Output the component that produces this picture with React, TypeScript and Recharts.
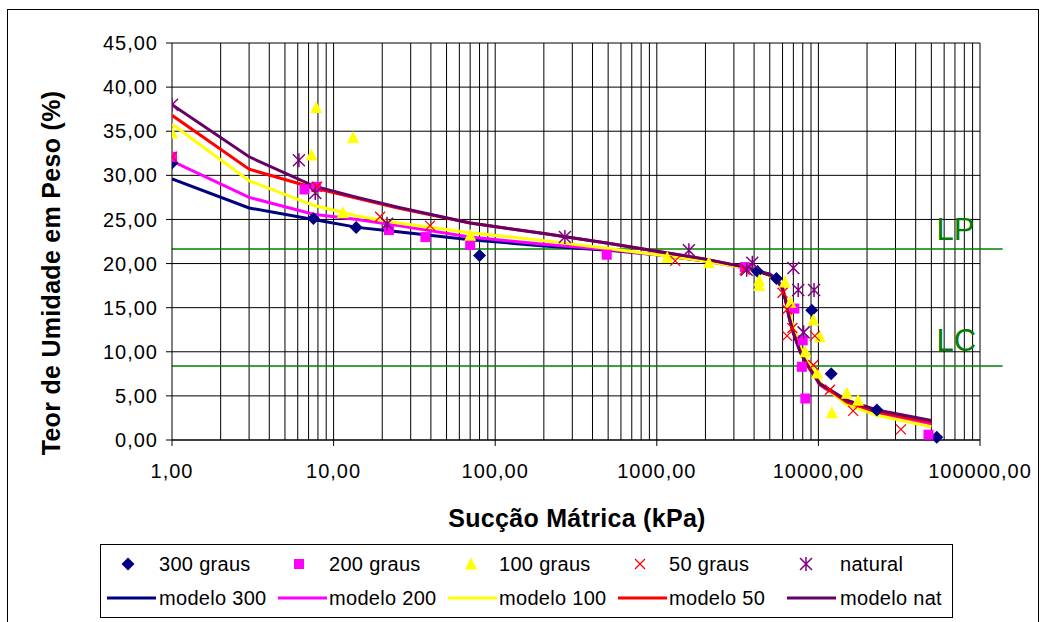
import { ScatterChart, Scatter, XAxis, YAxis, CartesianGrid, ReferenceLine } from "recharts";

// ---- measured points (x = kPa, y = %) ----
const g300 = [
  { x: 1, y: 31.4 }, { x: 7.5, y: 25.1 }, { x: 13.8, y: 24.1 }, { x: 80, y: 20.9 },
  { x: 4200, y: 19.1 }, { x: 5500, y: 18.3 }, { x: 9100, y: 14.7 }, { x: 12000, y: 7.5 },
  { x: 23000, y: 3.4 }, { x: 54000, y: 0.3 },
];
const g200 = [
  { x: 1, y: 32.1 }, { x: 6.6, y: 28.4 }, { x: 7.8, y: 28.7 }, { x: 22, y: 23.8 },
  { x: 37, y: 23.0 }, { x: 70, y: 22.1 }, { x: 490, y: 21.0 }, { x: 3500, y: 19.6 },
  { x: 7100, y: 14.9 }, { x: 8000, y: 11.3 }, { x: 7900, y: 8.3 }, { x: 8300, y: 4.7 },
  { x: 48000, y: 0.6 },
];
const g100 = [
  { x: 1, y: 34.8 }, { x: 7.3, y: 32.3 }, { x: 7.8, y: 37.7 }, { x: 11.4, y: 25.8 },
  { x: 13.2, y: 34.3 }, { x: 70, y: 23.2 }, { x: 1160, y: 20.7 }, { x: 2100, y: 20.1 },
  { x: 4300, y: 18.1 }, { x: 4300, y: 17.5 }, { x: 6200, y: 17.9 }, { x: 6700, y: 15.6 },
  { x: 8300, y: 10.0 }, { x: 9300, y: 13.6 }, { x: 9800, y: 7.6 }, { x: 10200, y: 11.7 },
  { x: 12100, y: 3.1 }, { x: 15000, y: 5.3 }, { x: 17600, y: 4.5 },
];
const g50 = [
  { x: 1, y: 32.1 }, { x: 7.9, y: 28.7 }, { x: 19.4, y: 25.3 }, { x: 39.5, y: 24.3 },
  { x: 1300, y: 20.3 }, { x: 3500, y: 19.3 }, { x: 6000, y: 16.7 }, { x: 6400, y: 14.8 },
  { x: 6900, y: 12.7 }, { x: 6400, y: 11.8 }, { x: 9500, y: 11.8 }, { x: 9300, y: 8.5 },
  { x: 11800, y: 5.7 }, { x: 16400, y: 3.3 }, { x: 32400, y: 1.2 },
];
const natural = [
  { x: 1, y: 38.0 }, { x: 6.1, y: 31.7 }, { x: 7.7, y: 28.0 }, { x: 21.4, y: 24.5 },
  { x: 270, y: 23.0 }, { x: 1580, y: 21.5 }, { x: 3600, y: 19.3 }, { x: 3900, y: 20.1 },
  { x: 7000, y: 19.5 }, { x: 7500, y: 17.0 }, { x: 9400, y: 17.0 }, { x: 8100, y: 12.2 },
];

// ---- fitted models ----
const modelX = [1, 3, 7.5, 14, 25, 70, 200, 500, 1000, 2000, 3500, 5000, 5500, 6000, 6300, 6600, 7000, 7700, 8500, 9300, 10200, 11800, 15000, 23000, 50000];
const m300Y = [29.6, 26.3, 25.0, 24.1, 23.6, 22.7, 22.0, 21.5, 21.0, 20.3, 19.6, 18.8, 18.3, 17.3, 15.8, 14.0, 12.3, 10.2, 8.6, 7.5, 6.3, 5.5, 4.2, 3.1, 1.8];
const m200Y = [31.6, 27.5, 25.6, 25.0, 24.3, 23.0, 22.2, 21.6, 21.0, 20.3, 19.5, 18.7, 18.2, 17.2, 15.7, 13.9, 12.2, 10.1, 8.6, 7.5, 6.3, 5.5, 4.2, 3.1, 1.8];
const m100Y = [35.8, 29.4, 26.6, 25.4, 24.6, 23.5, 22.6, 21.7, 21.0, 20.3, 19.5, 18.6, 18.1, 17.3, 16.0, 14.4, 12.8, 10.6, 9.0, 8.0, 6.6, 5.5, 4.0, 2.8, 1.5];
const m50Y = [36.8, 30.7, 28.6, 27.4, 26.3, 24.6, 23.4, 22.3, 21.4, 20.5, 19.6, 18.7, 18.2, 17.2, 15.7, 13.9, 12.2, 10.1, 8.6, 7.5, 6.3, 5.6, 4.3, 3.2, 2.0];
const mNatY = [38.0, 32.1, 28.8, 27.5, 26.4, 24.6, 23.4, 22.3, 21.4, 20.5, 19.6, 18.7, 18.2, 17.1, 15.6, 13.8, 12.1, 10.0, 8.5, 7.5, 6.4, 5.7, 4.5, 3.4, 2.2];

const xTicks = [1, 10, 100, 1000, 10000, 100000];
const yTicks = [0, 5, 10, 15, 20, 25, 30, 35, 40, 45];
const minorX = [1, 10, 100, 1000, 10000].flatMap((d) => [2, 3, 4, 5, 6, 7, 8, 9, 10].map((k) => k * d));

const LP = 21.65;
const LC = 8.4;
const limitEnd = 138000; // green lines run a bit past the plot

const toPts = (ys: number[]) => modelX.map((x, i) => ({ x, y: ys[i] }));

const FONT = "'Liberation Sans', Arial, sans-serif";
const fmt = (v: number) => v.toFixed(2).replace(".", ",");

const Diamond = ({ cx, cy }: any) => (
  <polygon points={`${cx},${cy - 6.5} ${cx + 6.5},${cy} ${cx},${cy + 6.5} ${cx - 6.5},${cy}`} fill="#000080" />
);
const Square = ({ cx, cy }: any) => <rect x={cx - 5} y={cy - 5} width={10} height={10} fill="#FF00FF" />;
const Tri = ({ cx, cy }: any) => (
  <polygon points={`${cx},${cy - 6.5} ${cx + 6},${cy + 5.5} ${cx - 6},${cy + 5.5}`} fill="#FFFF00" />
);
const Cross = ({ cx, cy }: any) => (
  <path d={`M${cx - 5},${cy - 5}L${cx + 5},${cy + 5}M${cx + 5},${cy - 5}L${cx - 5},${cy + 5}`} stroke="#FF0000" strokeWidth={1.3} />
);
const Star = ({ cx, cy }: any) => (
  <path
    d={`M${cx - 6},${cy - 6}L${cx + 6},${cy + 6}M${cx + 6},${cy - 6}L${cx - 6},${cy + 6}M${cx},${cy - 7}L${cx},${cy + 7}`}
    stroke="#800080"
    strokeWidth={1.5}
  />
);
const NoDot = () => <g />;

const legendTop = [
  { label: "300 graus", Icon: Diamond, x: 128, tx: 159 },
  { label: "200 graus", Icon: Square, x: 299, tx: 329 },
  { label: "100 graus", Icon: Tri, x: 471, tx: 499 },
  { label: "50 graus", Icon: Cross, x: 640, tx: 669 },
  { label: "natural", Icon: Star, x: 806, tx: 840 },
];
const legendBottom = [
  { label: "modelo 300", color: "#000080", x: 107, tx: 159 },
  { label: "modelo 200", color: "#FF00FF", x: 278, tx: 329 },
  { label: "modelo 100", color: "#FFFF00", x: 448, tx: 499 },
  { label: "modelo 50", color: "#FF0000", x: 618, tx: 669 },
  { label: "modelo nat", color: "#660066", x: 787, tx: 840 },
];

const limitLabel = (text: string, dy: number) => (props: any) => {
  const vb = props.viewBox;
  return (
    <text x={vb.x + vb.width - 66} y={vb.y - dy} fill="#008000" fontSize={31} fontFamily={FONT}>
      {text}
    </text>
  );
};

const tickStyle = { fill: "#000", fontSize: 20, fontFamily: FONT, letterSpacing: 1 };

export default function App() {
  return (
    <div style={{ position: "absolute", left: 0, top: 0, width: 1042, height: 622, background: "#fff", overflow: "hidden", fontFamily: FONT }}>
      <div style={{ position: "absolute", left: 7, top: 9, width: 1032, height: 640, border: "1px solid #000", boxSizing: "border-box" }} />
      <div style={{ position: "absolute", left: 0, top: 0 }}>
        <ScatterChart width={1042} height={622} margin={{ top: 43, right: 62, bottom: 122, left: 0 }}>
          <CartesianGrid vertical={false} stroke="#000" />
          {minorX.map((v) => (
            <ReferenceLine key={v} x={v} stroke="#000" />
          ))}
          <XAxis
            type="number"
            dataKey="x"
            scale="log"
            domain={[1, 100000]}
            ticks={xTicks}
            tickFormatter={fmt}
            allowDataOverflow
            height={60}
            tickSize={6}
            tickMargin={18}
            stroke="#000"
            tick={tickStyle}
          />
          <YAxis
            type="number"
            dataKey="y"
            domain={[0, 45]}
            ticks={yTicks}
            tickFormatter={fmt}
            width={172}
            tickSize={6}
            tickMargin={8}
            stroke="#000"
            tick={tickStyle}
          />
          <ReferenceLine
            segment={[{ x: 1, y: LP }, { x: limitEnd, y: LP }]}
            stroke="#008000"
            strokeWidth={1.5}
            ifOverflow="visible"
            label={limitLabel("LP", 9)}
          />
          <ReferenceLine
            segment={[{ x: 1, y: LC }, { x: limitEnd, y: LC }]}
            stroke="#008000"
            strokeWidth={1.5}
            ifOverflow="visible"
            label={limitLabel("LC", 15)}
          />
          <Scatter data={toPts(m300Y)} line={{ stroke: "#000080", strokeWidth: 3 }} lineType="joint" shape={NoDot} isAnimationActive={false} />
          <Scatter data={toPts(m200Y)} line={{ stroke: "#FF00FF", strokeWidth: 3 }} lineType="joint" shape={NoDot} isAnimationActive={false} />
          <Scatter data={toPts(m100Y)} line={{ stroke: "#FFFF00", strokeWidth: 3 }} lineType="joint" shape={NoDot} isAnimationActive={false} />
          <Scatter data={toPts(m50Y)} line={{ stroke: "#FF0000", strokeWidth: 3 }} lineType="joint" shape={NoDot} isAnimationActive={false} />
          <Scatter data={toPts(mNatY)} line={{ stroke: "#660066", strokeWidth: 3 }} lineType="joint" shape={NoDot} isAnimationActive={false} />
          <Scatter data={g300} shape={Diamond} isAnimationActive={false} />
          <Scatter data={g200} shape={Square} isAnimationActive={false} />
          <Scatter data={g100} shape={Tri} isAnimationActive={false} />
          <Scatter data={g50} shape={Cross} isAnimationActive={false} />
          <Scatter data={natural} shape={Star} isAnimationActive={false} />
        </ScatterChart>
      </div>
      <div style={{ position: "absolute", left: 51, top: 273, transform: "translate(-50%, -50%) rotate(-90deg)", whiteSpace: "nowrap", fontSize: 25, fontWeight: "bold", letterSpacing: 0.3 }}>
        Teor de Umidade em Peso (%)
      </div>
      <div style={{ position: "absolute", left: 577, top: 518, transform: "translate(-50%, -50%)", whiteSpace: "nowrap", fontSize: 25, fontWeight: "bold", letterSpacing: 0.3 }}>
        Sucção Mátrica (kPa)
      </div>
      <div style={{ position: "absolute", left: 100, top: 544, width: 853, height: 74, border: "1px solid #000", boxSizing: "border-box" }} />
      <svg style={{ position: "absolute", left: 0, top: 0 }} width={1042} height={622}>
        {legendTop.map(({ label, Icon, x, tx }) => (
          <g key={label}>
            <Icon cx={x} cy={564} />
            <text x={tx} y={571} fontSize={20} letterSpacing={0.3} fontFamily={FONT} fill="#000">{label}</text>
          </g>
        ))}
        {legendBottom.map(({ label, color, x, tx }) => (
          <g key={label}>
            <line x1={x} x2={x + 49} y1={598} y2={598} stroke={color} strokeWidth={3} />
            <text x={tx} y={605} fontSize={20} letterSpacing={0.3} fontFamily={FONT} fill="#000">{label}</text>
          </g>
        ))}
      </svg>
    </div>
  );
}
